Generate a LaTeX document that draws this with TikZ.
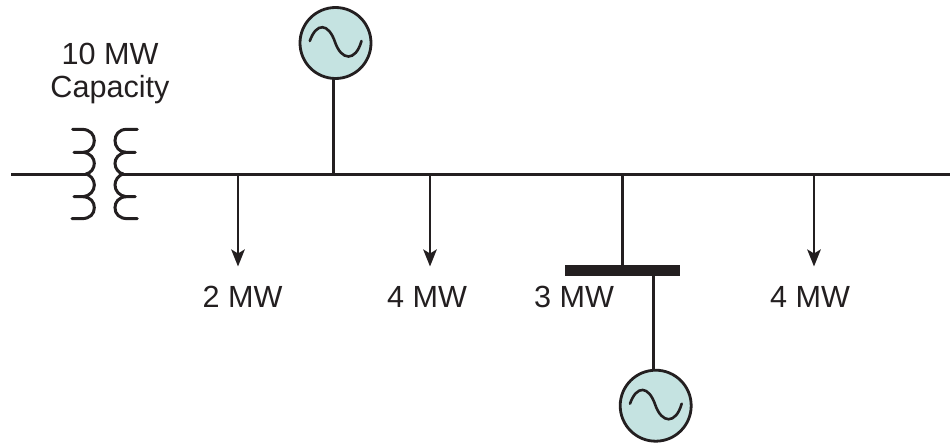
\documentclass[tikz,border=0pt]{standalone}
\usepackage{fontspec}
\setmainfont{Liberation Sans}
\usetikzlibrary{arrows.meta}
\definecolor{ink}{HTML}{231F20}
\definecolor{genfill}{HTML}{C5E3E1}
\tikzset{
  wire/.style={draw=ink,line width=3pt},
  coil/.style={draw=ink,line width=3pt,line cap=round},
  load/.style={draw=ink,line width=2.6pt,-{Stealth[length=17pt,width=13.5pt,inset=4pt]}},
  gen/.style={circle,draw=ink,fill=genfill,line width=2.8pt,minimum size=71pt,inner sep=0pt},
  wave/.style={draw=ink,line width=2.6pt,line cap=round},
  lab/.style={text=ink,font=\fontsize{30.6pt}{33pt}\selectfont,anchor=base,inner sep=0pt,align=center},
  barbox/.style={fill=ink,draw=none,minimum width=115pt,minimum height=11pt,inner sep=0pt}
}
\newcommand{\sinewave}[1]{%
  \draw[wave] ([shift={(-25.7pt,2pt)}]#1.center) .. controls ([shift={(-19pt,21pt)}]#1.center) and ([shift={(-7pt,20pt)}]#1.center) .. ([shift={(-0.5pt,1pt)}]#1.center)
   .. controls ([shift={(6pt,-18pt)}]#1.center) and ([shift={(20pt,-19pt)}]#1.center) .. ([shift={(26pt,2pt)}]#1.center);}
\begin{document}
\begin{tikzpicture}[x=1pt,y=-1pt]
\useasboundingbox (0,0) rectangle (950,444);
% bus
\coordinate (busL) at (11,174);
\coordinate (tL) at (86,174);
\coordinate (tR) at (121.7,174);
\coordinate (busR) at (950,174);
\draw[wire] (busL) -- (tL);
\draw[wire] (tR) -- (busR);
% transformer
\begin{scope}[shift={(50,110)},x=0.3333pt,y=-0.3333pt]
\draw[coil] (68,58) -- (95,58) .. controls (122,58) and (133,75) .. (133,92) .. controls (133,110) and (120,127) .. (100,127) -- (72,127);
\draw[coil] (100,127) .. controls (122,130) and (133,145) .. (133,160) .. controls (133,175) and (122,190) .. (108,192);
\draw[coil] (108,192) .. controls (122,195) and (133,210) .. (133,225) .. controls (133,242) and (120,258) .. (100,260) -- (72,260);
\draw[coil] (100,260) .. controls (122,262) and (133,276) .. (133,293) .. controls (133,312) and (120,326) .. (95,326) -- (66,326);
\draw[coil] (262,58) -- (230,58) .. controls (206,58) and (195,75) .. (195,92) .. controls (195,110) and (208,127) .. (228,127) -- (256,127);
\draw[coil] (228,127) .. controls (206,130) and (195,145) .. (195,160) .. controls (195,175) and (206,190) .. (220,192);
\draw[coil] (220,192) .. controls (206,195) and (195,210) .. (195,225) .. controls (195,242) and (208,258) .. (228,260) -- (256,260);
\draw[coil] (228,260) .. controls (206,262) and (195,276) .. (195,293) .. controls (195,312) and (208,326) .. (233,326) -- (262,326);
\end{scope}
% generators
\node[gen] (g1) at (335.5,43) {};
\node[gen] (g2) at (655.7,405.7) {};
\sinewave{g1}
\sinewave{g2}
\coordinate (g1bus) at (333.7,174);
\coordinate (g1top) at (333.7,79);
\draw[wire] (g1top) -- (g1bus);
% loads
\coordinate (a1) at (238,174); \coordinate (a1e) at (238,266.5);
\coordinate (a2) at (430,174); \coordinate (a2e) at (430,266.5);
\coordinate (a4) at (814,174); \coordinate (a4e) at (814,266.5);
\draw[load] (a1) -- (a1e);
\draw[load] (a2) -- (a2e);
\draw[load] (a4) -- (a4e);
% breaker bar
\node[barbox] (bar) at (622,270.6) {};
\coordinate (tie) at (622,174);
\draw[wire] (tie) -- (bar.center);
\coordinate (b2) at (653.7,270.6);
\coordinate (g2top) at (653.7,370);
\draw[wire] (b2) -- (g2top);
% labels
\node[lab] (l0) at (110,97) {Capacity};
\node[lab] (l00) at (110,65) {10 MW};
\node[lab] (l1) at (242.5,307) {2 MW};
\node[lab] (l2) at (427,307) {4 MW};
\node[lab] (l3) at (574,307) {3 MW};
\node[lab] (l4) at (810,307) {4 MW};
\end{tikzpicture}
\end{document}
